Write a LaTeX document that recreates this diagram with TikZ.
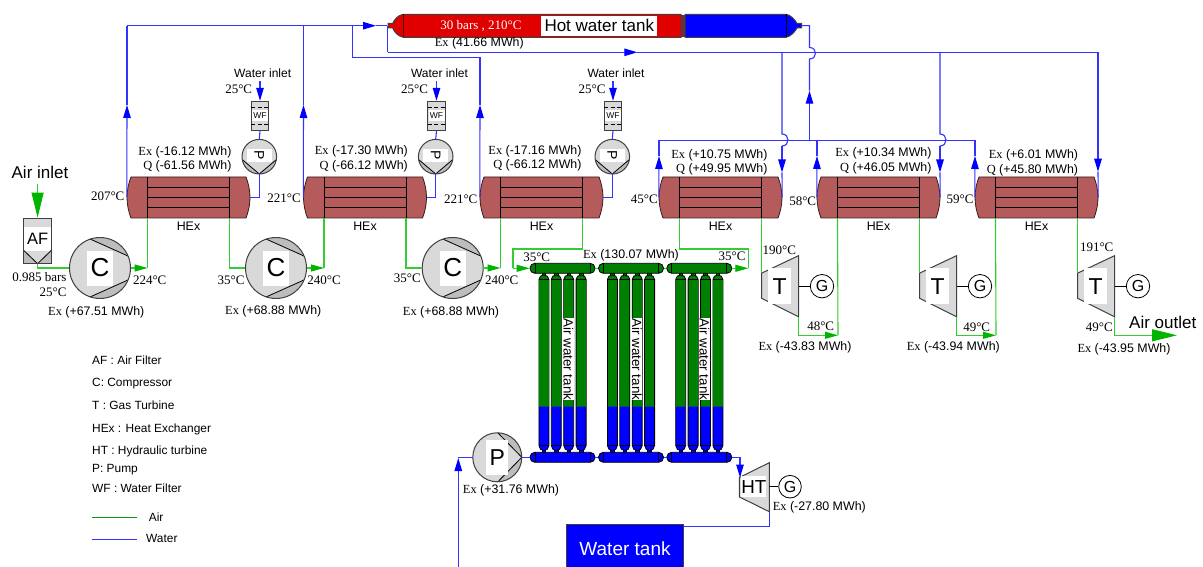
\documentclass[tikz,border=0pt]{standalone}
\usepackage{fontspec}
\setmainfont{Liberation Serif}
\setsansfont{Liberation Sans}
\usetikzlibrary{arrows.meta,calc}
\definecolor{airc}{HTML}{33CC33}
\definecolor{airhead}{HTML}{00B400}
\definecolor{waterc}{HTML}{3333FF}
\definecolor{hexc}{HTML}{B65B5B}
\definecolor{greyA}{HTML}{D9D9D9}
\definecolor{greyB}{HTML}{BDBDBD}
\definecolor{tankg}{HTML}{008000}
\definecolor{tankb}{HTML}{0000FF}
\definecolor{tankr}{HTML}{E00000}
\definecolor{edgec}{HTML}{404040}
\tikzset{
  airl/.style={draw=airc,line width=1.1pt},
  watl/.style={draw=waterc,line width=1.1pt},
  ah/.tip={Triangle[length=13pt,width=7pt,fill=airhead,color=airhead]},
  wh/.tip={Triangle[length=13pt,width=7.5pt,fill=blue,color=blue]},
  bigah/.tip={Triangle[length=25pt,width=12pt,fill=airhead,color=airhead]},
  sf/.style={font=\sffamily\fontsize{#1}{#1}\selectfont,inner sep=0pt},
  rm/.style={font=\rmfamily\fontsize{#1}{#1}\selectfont,inner sep=0pt},
  hexbox/.style={minimum width=123pt,minimum height=41pt,inner sep=0pt},
  blk/.style={draw=black,line width=0.8pt},
}
\newcommand{\exq}[1]{{\rmfamily Ex} #1}
\newcommand{\qq}[1]{{\rmfamily Q} #1}
\newcommand{\myhex}[2]{%
  \node[hexbox] (#1) at (#2,197.5) {};
  \begin{scope}[shift={(#1.center)}]
    \path[fill=hexc,draw=black!70!hexc,line width=0.8pt] (-57.5,-20.5) -- (57.5,-20.5)
      .. controls (60,-14) and (61.5,-7) .. (61.5,0)
      .. controls (61.5,7) and (60,14) .. (57.5,20.5) -- (-57.5,20.5)
      .. controls (-60,14) and (-61.5,7) .. (-61.5,0)
      .. controls (-61.5,-7) and (-60,-14) .. (-57.5,-20.5) -- cycle;
    \draw[blk] (-41,-20.5) -- (-41,20.5) (41,-20.5) -- (41,20.5);
    \draw[blk] (-41,-10.5) -- (41,-10.5) (-41,0) -- (41,0) (-41,10) -- (41,10);
    \coordinate (#1-bl) at (-41,20.5);
    \coordinate (#1-br) at (41,20.5);
    \node[sf=12.4] (#1-lab) at (0,29.2) {HEx};
  \end{scope}}
\newcommand{\mycomp}[3]{%
  \node[circle,minimum size=61pt,inner sep=0pt,fill=greyA] (#1) at (#2,#3) {};
  \begin{scope}[shift={(#1.center)}]
    \begin{scope}
      \clip (0,0) circle (30.5);
      \path[fill=greyB,blk] (-10,-29) -- (28,-12) -- (40,-12) -- (40,-40) -- (-10,-40) -- cycle;
      \path[fill=greyB,blk] (-10,29) -- (28,12) -- (40,12) -- (40,40) -- (-10,40) -- cycle;
    \end{scope}
    \draw[draw=edgec,line width=1pt] (0,0) circle (30.5);
    \node[fill=white,minimum width=26pt,minimum height=35pt,inner sep=0pt,sf=26] (#1-txt) at (0,0) {C};
  \end{scope}}
\newcommand{\mypump}[2]{%
  \node[circle,minimum size=34.6pt,inner sep=0pt,fill=greyA] (#1) at (#2,156.7) {};
  \begin{scope}[shift={(#1.center)}]
    \begin{scope}
      \clip (0,0) circle (17.3);
      \path[fill=greyB,blk] (-17.3,2.7) -- (0,17.3) -- (-17.3,25) -- cycle;
      \path[fill=greyB,blk] (17.3,2.7) -- (0,17.3) -- (17.3,25) -- cycle;
    \end{scope}
    \draw[draw=edgec,line width=1pt] (0,0) circle (17.3);
    \node[fill=white,minimum width=25pt,minimum height=13pt,inner sep=0pt,sf=14] (#1-txt) at (0,-1.5) {};
    \node[sf=14,rotate=-90] (#1-let) at (0,-1.5) {P};
  \end{scope}}
\newcommand{\myfilter}[2]{%
  \node[minimum width=17.4pt,minimum height=29pt,inner sep=0pt,fill=greyA,draw=edgec,line width=1pt] (#1) at (#2,115.8) {};
  \begin{scope}[shift={(#1.center)}]
    \node[fill=white,minimum width=16pt,minimum height=11pt,inner sep=0pt,sf=8.5] (#1-txt) at (0,0) {WF};
    \draw[black,line width=0.7pt,dash pattern=on 4pt off 2.5pt] (-8.7,-8.5) -- (8.7,-8.5) (-8.7,8.9) -- (8.7,8.9);
  \end{scope}}
\newcommand{\myturb}[5]{%
  \node[inner sep=0pt,minimum width=37pt,minimum height=61pt] (#1) at (#2+18.5,#3+30.5) {};
  \begin{scope}[shift={(#1.center)}]
    \path[fill=greyA,draw=edgec,line width=1pt] (-18.5,-13) -- (18.5,-30.5) -- (18.5,30.5) -- (-18.5,12) -- cycle;
    \node[fill=white,minimum width=23.3pt,minimum height=35.6pt,inner sep=0pt,sf=#5] (#1-txt) at (-0.3,0) {#4};
    \coordinate (#1-in) at (-18.5,-13);
    \coordinate (#1-out) at (18.5,30.5);
    \coordinate (#1-sh) at (18.5,0);
    \node[circle,draw=black,line width=0.8pt,fill=white,minimum size=23.4pt,inner sep=0pt,sf=16] (#1-g) at (42,0) {G};
    \draw[black,line width=0.8pt] (#1-sh) -- (#1-g);
  \end{scope}}
\newcommand{\mytube}[1]{%
  \path[fill=tankg,blk] (#1-1.8,273) -- (#1+1.8,273) -- (#1+1.8,276) -- (#1-1.8,276) -- cycle;
  \path[fill=tankg,blk] (#1-5,406.7) -- (#1-5,279.5) .. controls (#1-5,276.5) and (#1-2.5,275) .. (#1,275)
     .. controls (#1+2.5,275) and (#1+5,276.5) .. (#1+5,279.5) -- (#1+5,406.7);
  \fill[tankg] (#1-4.6,279.5) rectangle (#1+4.6,406.7);
  \draw[blk] (#1-5,279.2) -- (#1+5,279.2);
  \path[fill=tankb,blk] (#1-1.8,449) -- (#1+1.8,449) -- (#1+1.8,452.5) -- (#1-1.8,452.5) -- cycle;
  \path[fill=tankb,blk] (#1-5,406.7) -- (#1-5,445.5) .. controls (#1-5,448.5) and (#1-2.5,450.7) .. (#1,450.7)
     .. controls (#1+2.5,450.7) and (#1+5,448.5) .. (#1+5,445.5) -- (#1+5,406.7);
  \draw[blk] (#1-5,445.7) -- (#1+5,445.7);}
\newcommand{\mymanif}[3]{%
  \node[minimum width=65pt,minimum height=10pt,inner sep=0pt,rounded corners=4.8pt,draw=black,line width=0.8pt,fill=#3] (#1) at (#2,\mancy) {};
  \draw[blk] (#2-27.5,\mancy-5) -- (#2-27.5,\mancy+5) (#2+27.5,\mancy-5) -- (#2+27.5,\mancy+5);}
\begin{document}
\begin{tikzpicture}[x=1pt,y=-1pt]
\useasboundingbox (0,0) rectangle (1203,567);
\fill[white] (0,0) rectangle (1203,567);

% --- named routing points
\coordinate (tankL) at (387.3,25.7);
\coordinate (tankR) at (801.7,25.7);

% --- hot water tank
\path[fill=tankr,draw=edgec,line width=1pt] (681,14.3) -- (403.3,14.3)
  .. controls (398,15) and (394,20) .. (392.7,23.5) -- (388,23.5) -- (388,28) -- (392.7,28)
  .. controls (394,31.5) and (398,36.5) .. (403.3,37.3) -- (681,37.3) -- cycle;
\path[fill=tankb,draw=edgec,line width=1pt] (685,14.3) -- (786,14.3)
  .. controls (791,15) and (795,20) .. (797,23.5) -- (801.5,23.5) -- (801.5,28) -- (797,28)
  .. controls (795,31.5) and (791,36.5) .. (786,37.3) -- (685,37.3) -- cycle;
\fill[black!45!hexc] (681,14.8) rectangle (685,36.8);
\draw[black!60!tankr,line width=0.9pt] (403.3,14.3) -- (403.3,37.3);
\draw[black,line width=0.9pt] (786,14.3) -- (786,37.3);
\node[rm=13,text=white] (tankcond) at (481,26) {30 bars , 210°C};
\node[fill=white,minimum width=116pt,minimum height=20.4pt,inner sep=0pt,sf=17] (tanklab) at (599.3,25.8) {Hot water tank};

% --- heat exchangers
\myhex{h1}{188.5}\myhex{h2}{365}\myhex{h3}{541.5}\myhex{h4}{720.5}\myhex{h5}{878.5}\myhex{h6}{1036.5}

% --- compressors
\mycomp{c1}{100}{268}\mycomp{c2}{276}{268}\mycomp{c3}{452.7}{268}

% --- water pumps and filters
\mypump{p1}{259.3}\mypump{p2}{435.7}\mypump{p3}{612.3}
\myfilter{w1}{260}\myfilter{w2}{436.5}\myfilter{w3}{613}

% --- air filter
\node[minimum width=28.4pt,minimum height=45.7pt,inner sep=0pt,fill=greyA,draw=edgec,line width=1pt] (af) at (37.6,240.9) {};
\path[fill=greyB] (23.3,250) -- (37.6,263.7) -- (23.3,263.7) -- cycle (51.7,250) -- (37.6,263.7) -- (51.7,263.7) -- cycle;
\node[fill=white,minimum width=27pt,minimum height=24pt,inner sep=0pt,sf=16.5] (aftxt) at (37.6,238.5) {AF};
\draw[black,line width=0.8pt] (23.3,250) -- (37.6,263.7) -- (51.7,250);
\draw[edgec,line width=1pt] (23.3,218.2) rectangle (51.9,263.7);

% --- gas turbines
\myturb{t1}{761.5}{255.7}{T}{23}\myturb{t2}{919.5}{255.7}{T}{23}\myturb{t3}{1077.5}{255.7}{T}{23}

% --- tubes and manifolds
\foreach \cx in {562.5,631,699.3}{
  \foreach \dx in {-18.6,-6.2,6.2,18.6}{
    \pgfmathsetmacro{\tx}{\cx+\dx}
    \mytube{\tx}
  }
}
\def\mancy{268.3}
\mymanif{mt1}{562.5}{tankg}\mymanif{mt2}{631}{tankg}\mymanif{mt3}{699.3}{tankg}
\def\mancy{457.3}
\mymanif{mb1}{562.5}{tankb}\mymanif{mb2}{631}{tankb}\mymanif{mb3}{699.3}{tankb}
\node[fill=white,rotate=-90,sf=13.4,minimum width=79pt,minimum height=11pt] (lt1) at (568.5,359.3) {Air water tank};
\node[fill=white,rotate=-90,sf=13.4,minimum width=79pt,minimum height=11pt] (lt2) at (636.9,359.3) {Air water tank};
\node[fill=white,rotate=-90,sf=13.4,minimum width=79pt,minimum height=11pt] (lt3) at (704.5,359.3) {Air water tank};

% --- main water pump
\node[circle,minimum size=49pt,inner sep=0pt,fill=greyA] (pm) at (497.3,457.3) {};
\begin{scope}[shift={(pm.center)}]
  \begin{scope}
    \clip (0,0) circle (24.5);
    \path[fill=greyB,blk] (0.3,-24.7) -- (24.5,0) -- (30,-28) -- cycle;
    \path[fill=greyB,blk] (0.3,24.7) -- (24.5,0) -- (30,28) -- cycle;
  \end{scope}
  \draw[edgec,line width=1pt] (0,0) circle (24.5);
  \node[fill=white,minimum width=22pt,minimum height=35pt,inner sep=0pt,sf=23] (pmtxt) at (0,0) {P};
\end{scope}

% --- hydraulic turbine
\node[inner sep=0pt,minimum width=30pt,minimum height=49pt] (ht) at (754.3,487.2) {};
\begin{scope}[shift={(ht.center)}]
  \path[fill=greyA,draw=edgec,line width=1pt] (-15,-9.7) -- (15,-24.5) -- (15,24.5) -- (-15,9.7) -- cycle;
  \node[fill=white,minimum width=25pt,minimum height=21pt,inner sep=0pt,sf=18.8] (httxt) at (-0.5,-0.5) {HT};
  \coordinate (ht-in) at (-14.3,-9.7);
  \coordinate (ht-out) at (15,24.5);
  \coordinate (ht-sh) at (15,-0.5);
  \node[circle,draw=black,line width=0.8pt,fill=white,minimum size=22.6pt,inner sep=0pt,sf=16] (htg) at (35.7,-0.5) {G};
  \draw[black,line width=0.8pt] (ht-sh) -- (htg);
\end{scope}

% --- water tank
\node[fill=tankb,draw=edgec,line width=0.8pt,minimum width=117.3pt,minimum height=48pt,inner sep=0pt,anchor=north west,text=white,sf=19] (wt) at (566,524) {};
\node[text=white,sf=19] (wtlab) at (625,548.3) {Water tank};

% ===== air connectors
\coordinate (i0) at (37.6,184);
\draw[airl,-{bigah}] (i0) -- (af.north);
\draw[airl] (af.south) |- (c1.west);
\foreach \from/\to/\hx in {c1/h1-bl/147.5,c2/h2-bl/324,c3/h3-bl/500.5}{
  \coordinate (tip) at (\hx,268);
  \draw[airl,-{ah}] (\from.east) -- (tip);
  \draw[airl] (tip) -- (\to);
}
\draw[airl] (h1-br) |- (c2.west);
\draw[airl] (h2-br) |- (c3.west);
\coordinate (g1) at (582.5,249);
\coordinate (g2) at (513,249);
\coordinate (g5) at (513,268.3);
\draw[airl] (h3-br) -- (g1) -- (g2) -- (g5);
\draw[airl,-{ah}] (g5) -- (mt1.west);
\draw[airl] (mt1) -- (mt2);
\draw[airl] (mt2) -- (mt3);
\coordinate (g3) at (748.3,249);
\coordinate (g4) at (748.3,268.3);
\draw[airl] (h4-bl) |- (g3) -- (g4);
\draw[airl,-{ah}] (mt3.east) -- (g4);
\draw[airl] (h4-br) -- (t1-in);
\draw[airl] (h5-br) -- (t2-in);
\draw[airl] (h6-br) -- (t3-in);
\coordinate (o1t) at (838,335.3);
\draw[airl,-{ah}] (t1-out) |- (o1t);
\draw[airl] (o1t) -- (h5-bl);
\coordinate (o2t) at (996,335.3);
\draw[airl,-{ah}] (t2-out) |- (o2t);
\draw[airl] (o2t) -- (h6-bl);
\coordinate (o3t) at (1177,335.3);
\draw[airl,-{bigah}] (t3-out) |- (o3t);

% ===== water connectors
\coordinate (ta1) at (127,105);  \coordinate (n1) at (127,25.7);
\coordinate (ta2) at (376,25.7);
\coordinate (ta3) at (303.5,105); \coordinate (n2) at (303.5,25.7);
\coordinate (ta4) at (480,105);  \coordinate (n3) at (480,57.3); \coordinate (n4) at (352.7,57.3); \coordinate (n5) at (352.7,25.7);
\draw[watl,-{wh}] (h1.west) -- (ta1);
\draw[watl] (ta1) -- (n1);
\draw[watl,-{wh}] (n1) -- (ta2);
\draw[watl] (ta2) -- (tankL);
\draw[watl,-{wh}] (h2.west) -- (ta3);
\draw[watl] (ta3) -- (n2);
\draw[watl,-{wh}] (h3.west) -- (ta4);
\draw[watl] (ta4) -- (n3) -- (n4) -- (n5);

\coordinate (r0) at (387.7,25.7); \coordinate (r1) at (387.7,52.3);
\coordinate (r2) at (637.3,52.3); \coordinate (r3) at (1098,52.3);
\coordinate (r4) at (1098,171.7);
\draw[watl] (r0) -- (r1);
\draw[watl,-{wh}] (r1) -- (r2);
\draw[watl] (r2) -- (r3);
\draw[watl,-{wh}] (r3) -- (r4);
\draw[watl] (r4) -- (h6.east);
% branches with hops
\coordinate (b1) at (782,52.3); \coordinate (b1a) at (782,134); \coordinate (b1b) at (782,146); \coordinate (b1t) at (782,172.5);
\draw[watl] (b1) -- (b1a) .. controls (790,134) and (790,146) .. (b1b);
\draw[watl,-{wh}] (b1b) -- (b1t);
\draw[watl] (b1t) -- (h4.east);
\coordinate (b2) at (940,52.3); \coordinate (b2a) at (940,134); \coordinate (b2b) at (940,146); \coordinate (b2t) at (940,172.5);
\draw[watl] (b2) -- (b2a) .. controls (948,134) and (948,146) .. (b2b);
\draw[watl,-{wh}] (b2b) -- (b2t);
\draw[watl] (b2t) -- (h5.east);
% return manifold
\coordinate (m1) at (659,140.3); \coordinate (m1t) at (659,156);
\coordinate (m2) at (817,140.3); \coordinate (m2t) at (817,156);
\coordinate (m3) at (975,140.3); \coordinate (m3t) at (975,156);
\draw[watl,-{wh}] (h4.west) -- (m1t);
\draw[watl,-{wh}] (h5.west) -- (m2t);
\draw[watl,-{wh}] (h6.west) -- (m3t);
\draw[watl] (m1t) -- (m1) -- (m3) -- (m3t);
\draw[watl] (m2t) -- (m2);
\coordinate (ri0) at (809.5,140.3); \coordinate (rit) at (809.5,90.7);
\coordinate (ria) at (809.5,59); \coordinate (rib) at (809.5,47.5); \coordinate (ric) at (809.5,25.7);
\draw[watl,-{wh}] (ri0) -- (rit);
\draw[watl] (rit) -- (ria) .. controls (817.5,59) and (817.5,47.5) .. (rib) -- (ric) -- (tankR);
% make-up water
\foreach \n in {1,2,3}{
  \coordinate (wi\n) at ($(w\n.north)+(0,-20)$);
}
\foreach \n in {1,2,3}{
  \draw[watl,-{wh}] (wi\n) -- (w\n.north);
  \draw[watl] (w\n.south) -- (p\n.north);
}
\draw[watl] (p1.south) |- (h1.east);
\draw[watl] (p2.south) |- (h2.east);
\draw[watl] (p3.south) |- (h3.east);
% storage loop
\coordinate (l0) at (458.3,567); \coordinate (lt) at (458.3,458); \coordinate (l1) at (458.3,457.3);
\draw[watl,-{wh}] (l0) -- (lt);
\draw[watl] (l1) -- (pm.west);
\draw[watl] (pm.east) -- (mb1.west);
\draw[watl] (mb1) -- (mb2);
\draw[watl] (mb2) -- (mb3);
\coordinate (q1) at (740,457.3);
\draw[watl] (mb3.east) -- (q1);
\draw[watl,-{wh}] (q1) -- (ht-in);
\coordinate (q2) at (769.3,526.7);
\draw[watl] (ht-out) -- (q2) -- (wt.east |- q2);

% ===== labels
\node[sf=17] (airin) at (40,172) {Air inlet};
\node[sf=17] (airout) at (1162.7,322.3) {Air outlet};
\foreach \n/\xx in {n1/262.7,n2/439.5,n3/616}{
  \node[sf=12] (wl\n) at (\xx,73) {Water inlet};
}
\node[rm=13] (t25a) at (238.7,89.5) {25°C};
\node[rm=13] (t25b) at (414.5,89.5) {25°C};
\node[rm=13] (t25c) at (592,89.5) {25°C};
\node[rm=13] (t01) at (107.7,196.7) {207°C};
\node[rm=13] (t02) at (284,198.3) {221°C};
\node[rm=13] (t03) at (460.7,199) {221°C};
\node[rm=13] (t04) at (644.3,199.3) {45°C};
\node[rm=13] (t05) at (802.7,201) {58°C};
\node[rm=13] (t06) at (960,199.3) {59°C};
\node[rm=13,anchor=east] (b985) at (66.7,277.3) {0.985 bars};
\node[rm=13,anchor=east] (t07) at (66.7,292.3) {25°C};
\node[rm=13] (t08) at (149.7,280) {224°C};
\node[rm=13] (t09) at (231,280) {35°C};
\node[rm=13] (t10) at (324,280) {240°C};
\node[rm=13] (t11) at (407.3,278.3) {35°C};
\node[rm=13] (t12) at (501.7,280) {240°C};
\node[rm=13] (t13) at (536.7,257.3) {35°C};
\node[rm=13] (t14) at (732,256) {35°C};
\node[rm=13] (t15) at (779.3,250) {190°C};
\node[rm=13] (t16) at (1096.7,247.7) {191°C};
\node[rm=13] (t17) at (820.7,326) {48°C};
\node[rm=13] (t18) at (976.7,327.7) {49°C};
\node[rm=13] (t19) at (1099.3,327.7) {49°C};

\node[sf=12.4,anchor=east] (e1) at (231.7,152.3) {\exq{(-16.12 MWh)}};
\node[sf=12.4,anchor=east] (q1l) at (231.7,166.7) {\qq{(-61.56 MWh)}};
\node[sf=12.4,anchor=east] (e2) at (408,151.5) {\exq{(-17.30 MWh)}};
\node[sf=12.4,anchor=east] (q2l) at (408,166) {\qq{(-66.12 MWh)}};
\node[sf=12.4,anchor=east] (e3) at (581.7,151) {\exq{(-17.16 MWh)}};
\node[sf=12.4,anchor=east] (q3l) at (581.7,165.7) {\qq{(-66.12 MWh)}};
\node[sf=12.4,anchor=east] (e4) at (767.7,155) {\exq{(+10.75 MWh)}};
\node[sf=12.4,anchor=east] (q4l) at (767.7,169.7) {\qq{(+49.95 MWh)}};
\node[sf=12.4,anchor=east] (e5) at (931.7,153.7) {\exq{(+10.34 MWh)}};
\node[sf=12.4,anchor=east] (q5l) at (931.7,168) {\qq{(+46.05 MWh)}};
\node[sf=12.4,anchor=east] (e6) at (1078.3,155.7) {\exq{(+6.01 MWh)}};
\node[sf=12.4,anchor=east] (q6l) at (1078.3,170) {\qq{(+45.80 MWh)}};
\node[sf=12.4] (e7) at (96.3,312.7) {\exq{(+67.51 MWh)}};
\node[sf=12.4] (e8) at (273.3,311.3) {\exq{(+68.88 MWh)}};
\node[sf=12.4] (e9) at (451,312) {\exq{(+68.88 MWh)}};
\node[sf=12.4] (e10) at (631,255.3) {\exq{(130.07 MWh)}};
\node[sf=12.4] (e11) at (479.3,43.3) {\exq{(41.66 MWh)}};
\node[sf=12.4] (e12) at (805,347.7) {\exq{(-43.83 MWh)}};
\node[sf=12.4] (e13) at (953.3,347) {\exq{(-43.94 MWh)}};
\node[sf=12.4] (e14) at (1124,349.3) {\exq{(-43.95 MWh)}};
\node[sf=12.4] (e15) at (511,490.7) {\exq{(+31.76 MWh)}};
\node[sf=12.4] (e16) at (819.3,507.3) {\exq{(-27.80 MWh)}};

% ===== legend
\node[sf=11.9,anchor=west] (k1) at (92,360) {AF : Air Filter};
\node[sf=11.9,anchor=west] (k2) at (92,383.3) {C: Compressor};
\node[sf=11.9,anchor=west] (k3) at (92,405) {T : Gas Turbine};
\node[sf=11.9,anchor=west] (k4) at (92,429) {HEx : Heat Exchanger};
\node[sf=11.9,anchor=west] (k5) at (92,451.7) {HT : Hydraulic turbine};
\node[sf=11.9,anchor=west] (k6) at (92,470) {P: Pump};
\node[sf=11.9,anchor=west] (k7) at (92,488.7) {WF : Water Filter};
\coordinate (k8a) at (91.7,517); \coordinate (k8b) at (137.3,517);
\draw[draw=tankg!70!airc,line width=0.9pt] (k8a) -- (k8b);
\node[sf=11.9,anchor=west] (k8) at (148.7,516.7) {Air};
\coordinate (k9a) at (91.7,539.5); \coordinate (k9b) at (137.3,539.5);
\draw[watl] (k9a) -- (k9b);
\node[sf=11.9,anchor=west] (k9) at (146,538.3) {Water};
\end{tikzpicture}
\end{document}
